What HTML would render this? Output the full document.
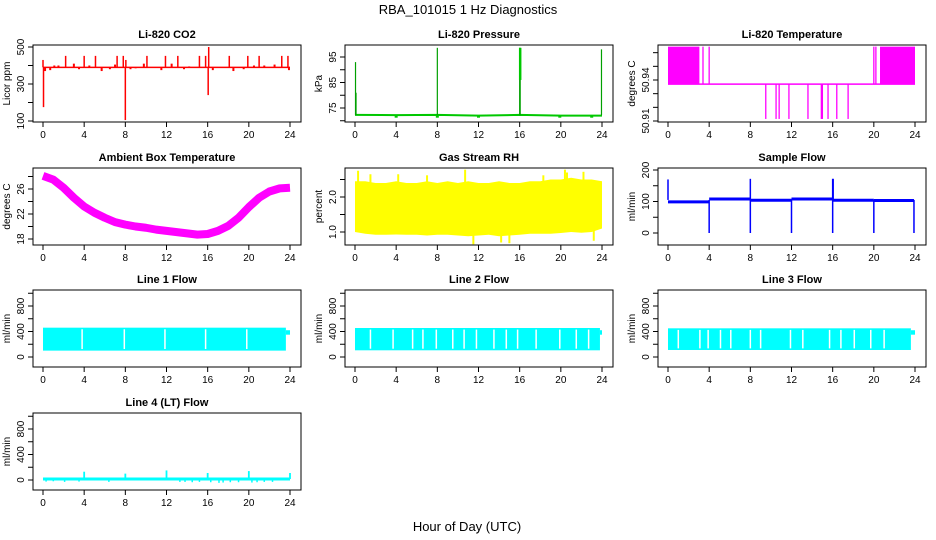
<!DOCTYPE html>
<html><head><meta charset="utf-8"><style>
html,body{margin:0;padding:0;background:#fff;}
svg{display:block;font-family:"Liberation Sans",sans-serif;}
</style></head><body>
<svg id="fig" width="936" height="540" viewBox="0 0 936 540" xmlns="http://www.w3.org/2000/svg">
<text x="468" y="14" text-anchor="middle" font-size="13">RBA_101015  1 Hz Diagnostics</text>
<text x="467" y="531" text-anchor="middle" font-size="13">Hour of Day (UTC)</text>
</svg>
<script>
// ---------- data ----------
const xTicks=[0,4,8,12,16,20,24];
// CO2
const co2Base=390;
const co2SpikeHours=[2.2,4.0,5.1,7.2,7.8,10.1,11.9,13.1,15.2,15.8,16.1,18.1,19.9,21.0,23.2,23.8,0.05,8.0,16.05,0.0,8.05];
const co2SpikeVals=[452,452,452,452,452,452,452,452,452,452,500,452,452,452,452,452,175,105,240,430,430];
const co2SmallHours=[0.2,0.7,1.1,1.5,3.0,3.5,4.5,5.7,6.5,7.0,8.5,9.0,9.8,11.5,12.5,13.7,14.2,16.5,17.2,18.5,19.5,20.5,21.5,22.5,23.9];
const co2SmallVals=[370,375,400,400,410,380,400,370,380,405,380,385,410,375,410,380,395,375,390,370,380,400,400,405,375];
// Pressure
const presBaseHours=[0,4,8,12,16,20,24];
const presBaseVals=[72.3,72.2,72.3,72.0,72.3,72.0,72.0];
const presSpikeHours=[0.05,0.1,8.0,16.0,16.05,23.95];
const presSpikeVals=[93,81,98.6,98.6,98.6,98];
const presDipHours=[4.0,8.0,12.0,19.9,23.0];
const presDipVals=[71.2,71.2,71.2,71.2,71.2];
// Li-820 temperature
const ltBase=50.937, ltHigh=50.9644, ltLow=50.9115;
const ltFillStart=[0,20.6], ltFillEnd=[3.05,24];
const ltHighLines=[3.4,4.0,20.0,20.2];
const ltLowLines=[9.5,10.5,10.8,11.75,13.6,14.9,15.0,15.55,16.4,17.5];
// Ambient box temperature (hourly centre)
const ambHours=[0,1,2,3,4,5,6,7,8,9,10,11,12,13,14,15,16,17,18,19,20,21,22,23,24];
const ambVals=[28.1,27.5,26.2,24.6,23.2,22.2,21.4,20.7,20.3,20.0,19.8,19.5,19.3,19.1,18.9,18.7,18.8,19.3,20.1,21.4,23.1,24.6,25.6,26.1,26.2];
// Gas stream RH envelope (hourly)
const rhHigh=[2.45,2.45,2.4,2.4,2.45,2.4,2.4,2.45,2.4,2.45,2.4,2.45,2.4,2.4,2.45,2.4,2.4,2.45,2.45,2.5,2.5,2.55,2.5,2.5,2.45];
const rhLow=[1.0,0.95,0.92,0.92,0.93,0.92,0.92,0.9,0.92,0.92,0.9,0.88,0.9,0.92,0.88,0.9,0.92,0.95,0.95,0.95,0.97,1.0,0.98,1.0,1.1];
const rhSpikeHours=[0.3,1.5,4.2,7.0,10.7,11.5,14.2,15.0,18.3,20.4,20.6,22.2,23.2];
const rhSpikeVals=[2.75,2.65,2.65,2.62,2.78,0.65,0.7,0.68,2.62,2.78,2.7,2.72,0.75];
// Sample flow
const sfSegStart=[0,4,8,12,16,20];
const sfSegEnd=[4,8,12,16,20,23.9];
const sfSegVals=[99,108,104,108,104,103];
const sfDropHours=[4,8,12,16,20,23.9];
const sfSpikeHours=[0,8,16,16.05];
const sfSpikeVals=[170,172,172,172];
// Line flows
const l1Top=460,l1Bot=100,l1End=23.6;
const l1Gaps=[3.8,7.9,11.85,15.8,19.8];
const l2Top=455,l2Bot=105,l2End=23.8;
const l2Gaps=[1.5,3.7,5.6,6.6,7.9,9.5,10.6,11.8,13.5,14.7,15.8,17.6,19.9,21.5,22.7];
const l3Top=450,l3Bot=110,l3End=23.6;
const l3Gaps=[1.0,3.1,3.9,5.1,6.1,8.0,9.0,11.9,13.1,15.7,16.8,18.1,19.7,21.0];
// Line 4 flow
const l4Base=15;
const l4SpikeHours=[4.0,8.0,12.0,16.0,20.0,24.0];
const l4SpikeVals=[130,100,150,110,140,110];
const l4DipHours=[0.3,1.0,2.1,3.5,6.4,13.3,13.8,14.5,15.2,16.3,17.1,17.5,18.2,19.0,20.3,20.8,21.5,22.3];
const l4DipVals=[-25,-20,-30,-25,-30,-30,-30,-35,-30,-35,-45,-40,-35,-35,-40,-35,-30,-30];

// ---------- layout ----------
const NS="http://www.w3.org/2000/svg";
const svg=document.getElementById('fig');
const cols=[33,345,658], rows=[45,168,290,413], BW=268, BH=77;
function mk(tag,attrs,name,parent){
  const el=document.createElementNS(NS,tag);
  for(const k in attrs) el.setAttribute(k,attrs[k]);
  
  
  (parent||svg).appendChild(el);
  return el;
}
function panel(c,r,title,ylab,v0,p0,v1,p1,ticks,labels){
  const L=cols[c],T=rows[r];
  const g=mk('g',{},'panel-'+title.toLowerCase().replace(/[^a-z0-9]+/g,'-'));
  const x=h=>L+10+h*247/24;
  const y=v=>p0+(v-v0)*(p1-p0)/(v1-v0);
  const clip=mk('clipPath',{id:'clip'+c+r},'clip',g);
  mk('rect',{x:L,y:T,width:BW,height:BH},'clip-rect',clip);
  const plot=mk('g',{'clip-path':'url(#clip'+c+r+')'},'plot-area',g);
  mk('rect',{x:L,y:T,width:BW,height:BH,fill:'none',stroke:'#000','stroke-width':1},'plot-box',g);
  mk('text',{x:L+BW/2,y:T-7,'text-anchor':'middle','font-size':11,'font-weight':'bold'},'panel-title',g).textContent=title;
  const yl=mk('text',{x:0,y:0,'text-anchor':'middle','font-size':10,transform:`translate(${L-23},${T+BH/2}) rotate(-90)`},'y-axis-title',g);
  yl.textContent=ylab;
  xTicks.forEach(t=>{
    mk('line',{x1:x(t),x2:x(t),y1:T+BH,y2:T+BH+5,stroke:'#000'},'x-tick',g);
    mk('text',{x:x(t),y:T+BH+16,'text-anchor':'middle','font-size':10},'x-tick-label',g).textContent=t;
  });
  ticks.forEach(t=>{
    mk('line',{x1:L-5,x2:L,y1:y(t),y2:y(t),stroke:'#000'},'y-tick',g);
  });
  labels.forEach(t=>{
    const tx=mk('text',{x:0,y:0,'text-anchor':'middle','font-size':10,transform:`translate(${L-9},${y(t)}) rotate(-90)`},'y-tick-label',g);
    tx.textContent=t;
  });
  return {x,y,g:plot,L,T};
}
function vline(P,h,a,b,col,w,name){
  mk('line',{x1:P.x(h),x2:P.x(h),y1:P.y(a),y2:P.y(b),stroke:col,'stroke-width':w||1.2},name,P.g);
}

// CO2
let P=panel(0,0,'Li-820 CO2','Licor ppm',100,121,500,47,[100,200,300,400,500],['100','300','500']);
mk('line',{x1:P.x(0),x2:P.x(24),y1:P.y(co2Base),y2:P.y(co2Base),stroke:'#f00','stroke-width':1.5},'co2-baseline',P.g);
co2SmallHours.forEach((h,i)=>vline(P,h,co2Base,co2SmallVals[i],'#f00',2,'co2-small-spike'));
co2SpikeHours.forEach((h,i)=>vline(P,h,co2Base,co2SpikeVals[i],'#f00',1.5,'co2-spike'));

// Pressure
P=panel(1,0,'Li-820 Pressure','kPa',75,108,95,57,[70,75,80,85,90,95],['75','85','95']);
mk('polyline',{points:presBaseHours.map((h,i)=>P.x(h)+','+P.y(presBaseVals[i])).join(' '),fill:'none',stroke:'#00c800','stroke-width':2},'pressure-baseline',P.g);
presDipHours.forEach((h,i)=>vline(P,h,72.2,presDipVals[i],'#00c800',3,'pressure-dip'));
presSpikeHours.forEach((h,i)=>vline(P,h,72.2,presSpikeVals[i],'#00a000',1.2,'pressure-spike'));
vline(P,16.05,86,98.6,'#00c800',2.5,'pressure-spike');

// Li-820 Temperature
P=panel(2,0,'Li-820 Temperature','degrees C',50.91,121,50.94,80,[50.91,50.92,50.93,50.94,50.95,50.96],['50.91','50.94']);
mk('line',{x1:P.x(0),x2:P.x(24),y1:P.y(ltBase),y2:P.y(ltBase),stroke:'#f0f','stroke-width':1.5},'temp-baseline',P.g);
ltFillStart.forEach((s,i)=>mk('rect',{x:P.x(s),y:P.y(ltHigh),width:P.x(ltFillEnd[i])-P.x(s),height:P.y(ltBase)-P.y(ltHigh),fill:'#f0f'},'temp-fill',P.g));
ltHighLines.forEach(h=>vline(P,h,ltBase,ltHigh,'#f0f',1.3,'temp-high-line'));
ltLowLines.forEach(h=>vline(P,h,ltBase,ltLow,'#f0f',1.3,'temp-low-line'));

// Ambient
P=panel(0,1,'Ambient Box Temperature','degrees C',18,239,26,189,[18,20,22,24,26,28],['18','22','26']);
mk('polyline',{points:ambHours.map((h,i)=>P.x(h)+','+P.y(ambVals[i])).join(' '),fill:'none',stroke:'#f0f','stroke-width':8,'stroke-linejoin':'round'},'ambient-temp-line',P.g);

// RH
P=panel(1,1,'Gas Stream RH','percent',1.0,232,2.0,197,[1.0,1.5,2.0,2.5],['1.0','2.0']);
{
  const top=rhHigh.map((v,i)=>P.x(i)+','+P.y(v));
  const bot=rhLow.map((v,i)=>P.x(i)+','+P.y(v)).reverse();
  mk('polygon',{points:top.concat(bot).join(' '),fill:'#ff0'},'rh-band',P.g);
  rhSpikeHours.forEach((h,i)=>vline(P,h,1.7,rhSpikeVals[i],'#ff0',2,'rh-spike'));
}

// Sample flow
P=panel(2,1,'Sample Flow','ml/min',0,233,200,170,[0,50,100,150,200],['0','100','200']);
sfSegStart.forEach((s,i)=>mk('line',{x1:P.x(s),x2:P.x(sfSegEnd[i]),y1:P.y(sfSegVals[i]),y2:P.y(sfSegVals[i]),stroke:'#00f','stroke-width':3},'sample-flow-segment',P.g));
sfDropHours.forEach(h=>vline(P,h,105,0,'#00f',1.5,'sample-flow-drop'));
sfSpikeHours.forEach((h,i)=>vline(P,h,105,sfSpikeVals[i],'#00f',1.5,'sample-flow-spike'));

// Line flows
function flow(c,r,title,top,bot,end,gaps){
  const Q=panel(c,r,title,'ml/min',0,357+(r-2)*0,800,306,[0,200,400,600,800,1000],['0','400','800']);
  return Q;
}
[[0,2,'Line 1 Flow',l1Top,l1Bot,l1End,l1Gaps],[1,2,'Line 2 Flow',l2Top,l2Bot,l2End,l2Gaps],[2,2,'Line 3 Flow',l3Top,l3Bot,l3End,l3Gaps]].forEach(d=>{
  const Q=panel(d[0],d[1],d[2],'ml/min',0,357,800,306,[0,200,400,600,800,1000],['0','400','800']);
  mk('rect',{x:Q.x(0),y:Q.y(d[3]),width:Q.x(d[5])-Q.x(0),height:Q.y(d[4])-Q.y(d[3]),fill:'#0ff'},'flow-band',Q.g);
  mk('rect',{x:Q.x(d[5]),y:Q.y(420),width:Q.x(24)-Q.x(d[5]),height:Q.y(350)-Q.y(420),fill:'#0ff'},'flow-end',Q.g);
  d[6].forEach(h=>vline(Q,h,d[3]-25,d[4]+25,'#fff',1.5,'flow-gap'));
});

// Line 4
P=panel(0,3,'Line 4 (LT) Flow','ml/min',0,480,800,429,[0,200,400,600,800,1000],['0','400','800']);
mk('line',{x1:P.x(0),x2:P.x(24),y1:P.y(l4Base),y2:P.y(l4Base),stroke:'#0ff','stroke-width':3},'line4-baseline',P.g);
l4DipHours.forEach((h,i)=>vline(P,h,l4Base,l4DipVals[i],'#0ff',1.5,'line4-dip'));
l4SpikeHours.forEach((h,i)=>vline(P,h,l4Base,l4SpikeVals[i],'#0ff',1.8,'line4-spike'));
</script>
</body></html>
